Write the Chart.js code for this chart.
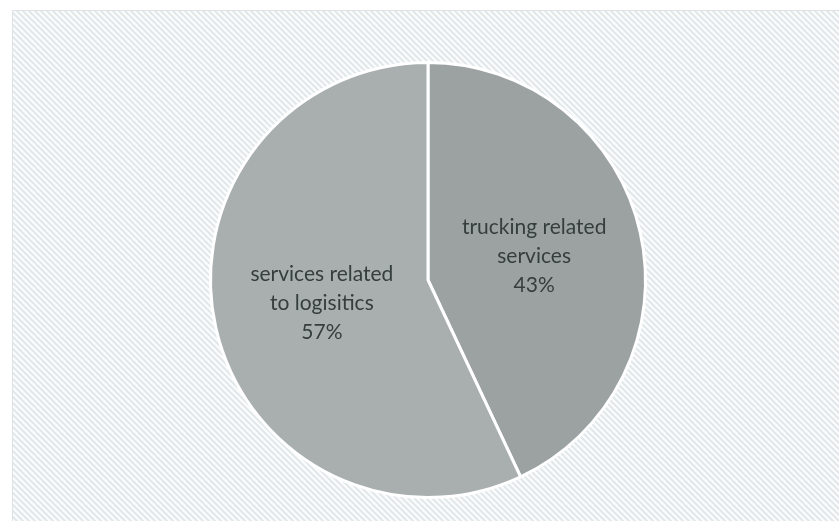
<!DOCTYPE html>
<html>
<head>
<meta charset="utf-8">
<script src="https://cdn.jsdelivr.net/npm/chart.js@4/dist/chart.umd.min.js"></script>
<style>
  html, body { margin: 0; padding: 0; background: #ffffff; }
  #wrap { width: 839px; height: 521px; position: relative; }
</style>
</head>
<body>
<div id="wrap"><canvas id="c" width="839" height="521"></canvas></div>
<script>
// Share of service types
const categories = ["trucking related services", "services related to logisitics"];
const labelLines = [["trucking related", "services"], ["services related", "to logisitics"]];
const shares = [43, 57];
const sliceColors = ["#9ca2a2", "#a8afae"];

// Diagonal hatch tile for the chart frame
function hatchPattern(ctx) {
  const t = document.createElement("canvas");
  t.width = 6; t.height = 6;
  const g = t.getContext("2d");
  g.fillStyle = "#fbfcfc";
  g.fillRect(0, 0, 6, 6);
  g.strokeStyle = "#e1e7ea";
  g.lineWidth = 2;
  g.beginPath();
  g.moveTo(-1, -1); g.lineTo(7, 7);
  g.moveTo(-4, 2); g.lineTo(4, 10);
  g.moveTo(2, -4); g.lineTo(10, 4);
  g.stroke();
  return ctx.createPattern(t, "repeat");
}

const framePlugin = {
  id: "frame",
  beforeDraw(chart) {
    const ctx = chart.ctx;
    ctx.save();
    ctx.fillStyle = "#ffffff";
    ctx.fillRect(0, 0, chart.width, chart.height);
    ctx.fillStyle = hatchPattern(ctx);
    ctx.fillRect(12, 10, chart.width, chart.height);
    ctx.strokeStyle = "#dde2e5";
    ctx.lineWidth = 1;
    ctx.beginPath();
    ctx.moveTo(12.5, chart.height);
    ctx.lineTo(12.5, 10.5);
    ctx.lineTo(chart.width, 10.5);
    ctx.stroke();
    ctx.restore();
  }
};

const sliceLabels = {
  id: "sliceLabels",
  afterDatasetsDraw(chart) {
    const ctx = chart.ctx;
    const meta = chart.getDatasetMeta(0);
    ctx.save();
    ctx.font = "21px Lato, 'Open Sans', sans-serif";
    ctx.fillStyle = "#363d3d";
    ctx.textAlign = "center";
    ctx.textBaseline = "middle";
    meta.data.forEach((arc, i) => {
      const p = arc.getCenterPoint();
      const lines = labelLines[i].concat([shares[i] + "%"]);
      const lh = 29;
      const y0 = p.y - (lines.length - 1) * lh / 2;
      lines.forEach((ln, k) => ctx.fillText(ln, p.x, y0 + k * lh));
    });
    ctx.restore();
  }
};

new Chart(document.getElementById("c"), {
  type: "pie",
  data: {
    labels: categories,
    datasets: [{
      data: shares,
      backgroundColor: sliceColors,
      borderColor: "#ffffff",
      borderWidth: 3
    }]
  },
  options: {
    responsive: false,
    animation: false,
    layout: { padding: { top: 61, bottom: 22, left: 17, right: 0 } },
    plugins: {
      legend: { display: false },
      tooltip: { enabled: false }
    }
  },
  plugins: [framePlugin, sliceLabels]
});
</script>
</body>
</html>
